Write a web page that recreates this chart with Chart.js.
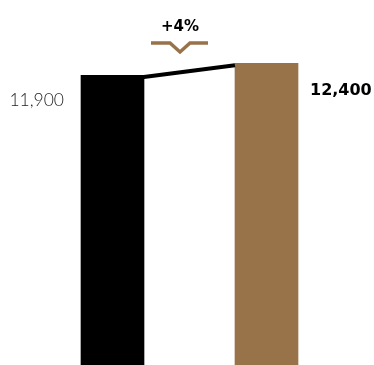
<!DOCTYPE html>
<html>
<head>
<meta charset="utf-8">
<script src="https://cdn.jsdelivr.net/npm/chart.js@4"></script>
<style>
  html, body { margin: 0; padding: 0; background: #fff; }
  canvas { display: block; }
</style>
</head>
<body>
<canvas id="chart" width="374" height="365"></canvas>
<script>
// Data
const categories = ['Before', 'After'];
const values = [11900, 12400];
const valueLabels = ['11,900', '12,400'];
const changeLabel = '+4%';
const barColors = ['#000000', '#987249'];

// Draws value labels, connector line and the change badge
const annotations = {
    id: 'annotations',
    afterDatasetsDraw(chart) {
        const ctx = chart.ctx;
        const bars = chart.getDatasetMeta(0).data;
        const a = bars[0], b = bars[1];

        ctx.save();

        // connector between the bar tops
        ctx.strokeStyle = '#000';
        ctx.lineWidth = 4;
        ctx.beginPath();
        ctx.moveTo(a.x + a.width / 2 - 4, a.y + 2);
        ctx.lineTo(b.x - b.width / 2, b.y + 2);
        ctx.stroke();

        // value labels
        ctx.textBaseline = 'alphabetic';
        ctx.fillStyle = '#222';
        ctx.font = '300 17.5px Lato';
        ctx.textAlign = 'right';
        ctx.fillText(valueLabels[0], a.x - a.width / 2 - 17, a.y + 31);

        ctx.fillStyle = '#000';
        ctx.font = 'bold 16px "DejaVu Sans"';
        ctx.textAlign = 'left';
        ctx.fillText(valueLabels[1], b.x + b.width / 2 + 12, b.y + 32);

        // change badge
        const cx = 180;
        ctx.font = 'bold 15px "DejaVu Sans"';
        ctx.textAlign = 'center';
        ctx.fillText(changeLabel, cx, 31);

        ctx.strokeStyle = barColors[1];
        ctx.lineWidth = 3.5;
        ctx.lineJoin = 'miter';
        ctx.beginPath();
        ctx.moveTo(cx - 29, 43);
        ctx.lineTo(cx - 10, 43);
        ctx.lineTo(cx, 52);
        ctx.lineTo(cx + 10, 43);
        ctx.lineTo(cx + 28, 43);
        ctx.stroke();

        ctx.restore();
    }
};

new Chart(document.getElementById('chart'), {
    type: 'bar',
    data: {
        labels: categories,
        datasets: [{
            data: values,
            backgroundColor: barColors,
            barThickness: 63,
            borderWidth: 0
        }]
    },
    options: {
        responsive: false,
        animation: false,
        layout: { padding: { left: 35.5, right: 30.5, top: 0, bottom: 0 } },
        plugins: { legend: { display: false }, tooltip: { enabled: false } },
        scales: {
            x: { display: false },
            y: { display: false, min: 0, max: 15000 }
        }
    },
    plugins: [annotations]
});
</script>
</body>
</html>
